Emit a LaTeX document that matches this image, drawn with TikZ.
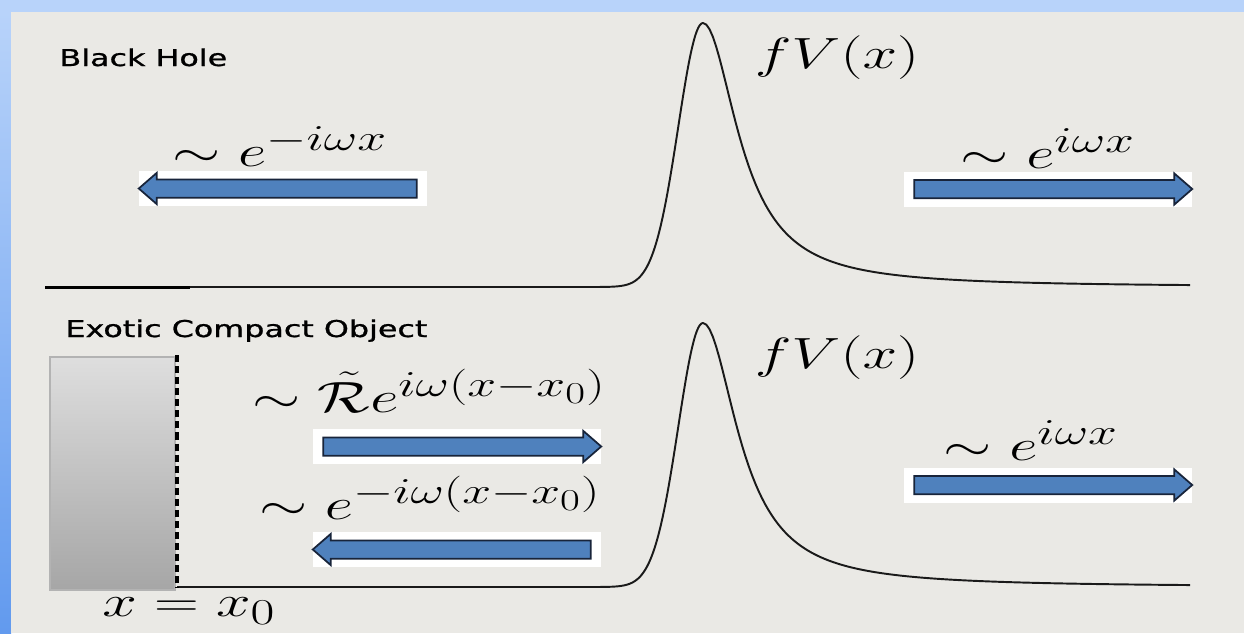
\documentclass[tikz,border=0pt]{standalone}
\usepackage{fontspec}
\usepackage{amssymb}
\usetikzlibrary{shapes.arrows}
\newfontfamily\titlefont[FakeBold=0.8]{DejaVu Sans}
\definecolor{PanelClr}{HTML}{EAE9E5}
\definecolor{FrameClr}{HTML}{B8D3FA}
\definecolor{FrameLow}{HTML}{629AEE}
\definecolor{ArrowClr}{HTML}{4F81BD}
\definecolor{ArrowEdge}{HTML}{18243A}
\definecolor{WallTop}{HTML}{DEDEDE}
\definecolor{WallBot}{HTML}{A6A6A6}
\definecolor{WallEdge}{HTML}{B3B3B3}
\definecolor{CurveClr}{HTML}{1A1A1A}

\tikzset{
  lbl/.style={font=\fontsize{24.88}{30}\selectfont, xscale=1.42, inner sep=0pt, anchor=base},
  ttl/.style={font=\titlefont\fontsize{13.2}{16}\selectfont, xscale=1.37, inner sep=0pt, anchor=base west},
  wbox/.style={fill=white, minimum width=5.76cm, minimum height=0.7cm, inner sep=0pt},
  flux/.style={single arrow, fill=ArrowClr, draw=ArrowEdge, line width=1pt,
    minimum height=5.56cm, minimum width=0pt, inner sep=0pt, inner ysep=0.165cm,
    single arrow head extend=0.13cm, single arrow tip angle=82},
  curve/.style={CurveClr, line width=1.1pt},
}

\begin{document}
\begin{tikzpicture}[x=0.02cm,y=-0.02cm]
\useasboundingbox (0,0) rectangle (1244,633);

% frame and panel
\fill[FrameClr] (0,0) rectangle (1244,633);
\shade[top color=FrameClr, bottom color=FrameLow] (0,12) rectangle (11,633);
\fill[PanelClr] (11,12) rectangle (1244,633);

% potential barriers
\foreach \dy in {0,300} {
  \draw[curve] plot[domain=580:703, samples=80] (\x,{287+\dy-264*exp(-((\x-703)/35)^2)})
    -- plot[domain=703:1190, samples=150] (\x,{287+\dy-264/(1+((\x-703)/42)^2)});
}
\draw[curve] (45,287) -- (580,287);
\draw[curve] (177,587) -- (580,587);
\draw[black, line width=1.7pt] (45,287) -- (190,287);

% wall of the compact object
\shade[top color=WallTop, bottom color=WallBot, draw=WallEdge, line width=0.6pt] (50,357) rectangle (175,590);
\draw[black, line width=2.3pt, dash pattern=on 4pt off 2.3pt] (177,355) -- (177,588);

% titles
\node[ttl] (bhT) at (59,66) {Black Hole};
\node[ttl] (ecoT) at (65,337) {Exotic Compact Object};

% boxes and arrows
\node[wbox] (bhL) at (283,188.5) {};
\node[wbox] (bhR) at (1048,189) {};
\node[wbox] (ecoA) at (457,446.5) {};
\node[wbox] (ecoB) at (457,549.5) {};
\node[wbox] (ecoR) at (1048,485) {};

\node[flux, shape border rotate=180] (bhLa) at (bhL) {};
\node[flux] (bhRa) at (bhR) {};
\node[flux] (ecoAa) at (ecoA) {};
\node[flux, shape border rotate=180] (ecoBa) at (ecoB) {};
\node[flux] (ecoRa) at (ecoR) {};

% labels
\node[lbl] (bhLl) at (280,166) {$\sim e^{-i\omega x}$};
\node[lbl] (bhRl) at (1048,168) {$\sim e^{i\omega x}$};
\node[lbl] (ecoAl) at (429,412) {$\sim \tilde{\mathcal{R}}e^{i\omega(x-x_0)}$};
\node[lbl] (ecoBl) at (430,519) {$\sim e^{-i\omega(x-x_0)}$};
\node[lbl] (ecoRl) at (1031,460) {$\sim e^{i\omega x}$};
\node[lbl] (vT) at (837,68) {$fV(x)$};
\node[lbl] (vB) at (837,368) {$fV(x)$};
\node[lbl] (xw) at (189,616) {$x=x_0$};

\end{tikzpicture}
\end{document}
